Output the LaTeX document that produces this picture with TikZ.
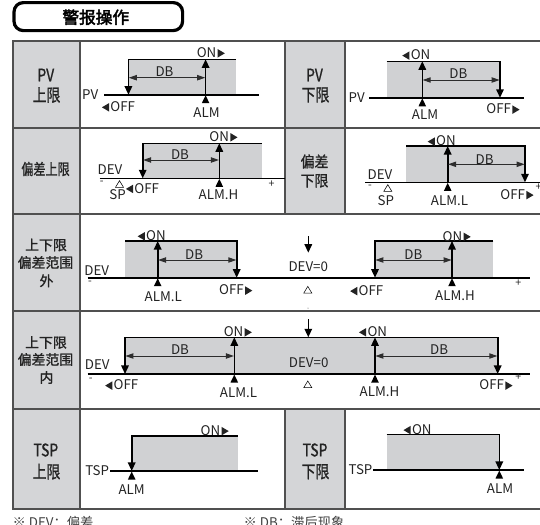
\documentclass[tikz,border=0pt]{standalone}
\usepackage{fontspec}
\setmainfont{Noto Sans CJK SC}
\newfontfamily\lblfont[FakeBold=1.2]{Noto Sans CJK SC}
\newfontfamily\ttlfont[FakeBold=2.5]{Noto Sans CJK SC}
\newfontfamily\symf{DejaVu Sans}
\usetikzlibrary{arrows.meta}
\definecolor{lblfill}{RGB}{212,213,215}
\definecolor{areafill}{RGB}{208,209,211}
\definecolor{gridc}{RGB}{80,80,80}
\definecolor{txtc}{RGB}{35,35,35}
\definecolor{dbc}{RGB}{45,45,45}
\newcommand\rtri{\hspace{1pt}\tikz[baseline=0pt]{\fill (0pt,0pt) -- (0pt,6.4pt) -- (5.4pt,3.2pt) -- cycle;}}
\newcommand\ltri{\tikz[baseline=0pt]{\fill (5.4pt,0pt) -- (5.4pt,6.4pt) -- (0pt,3.2pt) -- cycle;}\hspace{1pt}}
\newcommand\htri{\tikz[baseline=0pt]{\draw[line width=0.4pt] (0pt,0pt) -- (6pt,0pt) -- (3pt,5pt) -- cycle;}}
\newcommand\tallt[1]{\scalebox{1}[1.25]{#1}}
\tikzset{
  gridline/.style={draw=gridc, line width=1.5pt},
  baseln/.style={draw=black, line width=1.2pt},
  varr/.style={draw=black, line width=1.2pt, -{Triangle[width=5.6pt,length=6.4pt]}},
  dbarr/.style={draw=dbc, line width=0.75pt, {Triangle[width=4pt,length=6pt]}-{Triangle[width=4pt,length=6pt]}},
  txt/.style={font=\fontsize{10}{12}\selectfont, text=txtc, inner sep=0pt},
  small/.style={font=\fontsize{8}{9}\selectfont, text=txtc, inner sep=0pt},
  rlab/.style={font=\lblfont\fontsize{10.4}{12}\selectfont, text=txtc, inner sep=0pt},
  almtri/.pic={\fill[black] (0,0.6) -- (-3.8,8.5) -- (3.8,8.5) -- cycle;}
}
\begin{document}
\begin{tikzpicture}[x=0.75pt,y=-0.75pt]
\useasboundingbox (0,0) rectangle (540,525);
\clip (0,0) rectangle (540,525);
% title
\draw[line width=2.4pt, rounded corners=7pt] (14,2.6) rectangle (182.6,30.6);
\node[font=\ttlfont\fontsize{12.5}{14}\selectfont, inner sep=0pt] (title) at (95.8,17.2) {警报操作};
% table fills
\fill[lblfill] (12.7,40.8) rectangle (80.2,508.9);
\fill[lblfill] (284.8,40.8) rectangle (345,214.3);
\fill[lblfill] (284.8,409.1) rectangle (345,508.9);
% table lines
\foreach \yy in {40.8,127.6,214.3,310.7,409.1,508.9}{\draw[gridline] (12,\yy) -- (545,\yy);}
\draw[gridline] (12.7,40.8) -- (12.7,508.9);
\draw[gridline] (80.2,40.8) -- (80.2,508.9);
\draw[gridline] (284.8,40.8) -- (284.8,214.3);
\draw[gridline] (345,40.8) -- (345,214.3);
\draw[gridline] (284.8,409.1) -- (284.8,508.9);
\draw[gridline] (345,409.1) -- (345,508.9);
% row labels
\node[rlab] (l1a) at (45.8,75) {\tallt{PV}};
\node[rlab] (l1b) at (46.5,95) {\tallt{上限}};
\node[rlab] (l1c) at (314.5,75) {\tallt{PV}};
\node[rlab] (l1d) at (315.5,95) {\tallt{下限}};
\node[rlab] (l2a) at (45.5,169) {\scalebox{0.87}[1.12]{偏差上限}};
\node[rlab] (l2b) at (314.5,161.5) {\scalebox{1}[1.1]{偏差}};
\node[rlab] (l2c) at (314.5,180.8) {\scalebox{1}[1.1]{下限}};
\node[rlab] (l3a) at (46,245) {上下限};
\node[rlab] (l3b) at (45.5,262.5) {偏差范围};
\node[rlab] (l3c) at (46.5,280.8) {外};
\node[rlab] (l4a) at (46,342.5) {上下限};
\node[rlab] (l4b) at (45.5,359.5) {偏差范围};
\node[rlab] (l4c) at (46.5,377.5) {内};
\node[rlab] (l5a) at (45.8,450) {\tallt{TSP}};
\node[rlab] (l5b) at (46.5,471.7) {\tallt{上限}};
\node[rlab] (l5c) at (315,450) {\tallt{TSP}};
\node[rlab] (l5d) at (315.5,471.7) {\tallt{下限}};

% ===== Row 1 left: PV upper
\fill[areafill] (128.4,59.3) rectangle (236.2,94.7);
\draw[baseln] (104,94.7) -- (259,94.7);
\draw[varr] (236.2,59.3) -- (128.4,59.3) -- (128.4,94.7);
\draw[varr] (205.6,94.7) -- (205.6,59.3);
\draw[dbarr] (128.8,77.7) -- (205.2,77.7);
\pic at (205.6,94.7) {almtri};
\node[txt] (a1on) at (210.8,52.7) {ON\rtri};
\node[txt] (a1db) at (164.5,72) {DB};
\node[txt] (a1pv) at (90.3,95) {PV};
\node[txt] (a1off) at (118.5,106.7) {\ltri OFF};
\node[txt] (a1alm) at (206.5,112.8) {ALM};

% ===== Row 1 right: PV lower
\fill[areafill] (386.7,61.3) rectangle (500,97.8);
\draw[baseln] (369,97.8) -- (524,97.8);
\draw[varr] (386.7,61.3) -- (500,61.3) -- (500,97.8);
\draw[varr] (422.3,97.8) -- (422.3,61.3);
\draw[dbarr] (422.7,80) -- (499.6,80);
\pic at (422.3,97.8) {almtri};
\node[txt] (b1on) at (416.3,55) {\ltri ON};
\node[txt] (b1db) at (458.3,74) {DB};
\node[txt] (b1pv) at (356.7,97.5) {PV};
\node[txt] (b1alm) at (425,115) {ALM};
\node[txt] (b1off) at (503,109) {OFF\rtri};

% ===== Row 2 left: deviation upper
\fill[areafill] (142.7,143.3) rectangle (261.7,178.3);
\draw[baseln] (99.5,178.3) -- (284.8,178.3);
\draw[varr] (261.7,143.3) -- (142.7,143.3) -- (142.7,178.3);
\draw[varr] (219.3,178.3) -- (219.3,143.3);
\draw[dbarr] (143.1,160) -- (218.9,160);
\pic at (219.3,178.3) {almtri};
\node[txt] (a2on) at (223.5,136.7) {ON\rtri};
\node[txt] (a2db) at (180,155) {DB};
\node[txt] (a2dev) at (110,169.3) {DEV};
\node[small] (a2m) at (101.7,183) {-};
\node[inner sep=0pt] (a2sp0) at (119.5,184) {\htri};
\node[txt] (a2sp) at (117.5,194.5) {SP};
\node[txt] (a2off) at (142.5,188.3) {\ltri OFF};
\node[txt] (a2alm) at (218.5,195) {ALM.H};
\node[small] (a2p) at (271.5,184.5) {+};

% ===== Row 2 right: deviation lower
\fill[areafill] (406,146) rectangle (525,182.3);
\draw[baseln] (365,182.3) -- (545,182.3);
\draw[varr] (406,146) -- (525,146) -- (525,182.3);
\draw[varr] (447.7,182.3) -- (447.7,146);
\draw[dbarr] (448.1,164.3) -- (524.6,164.3);
\pic at (447.7,182.3) {almtri};
\node[txt] (b2on) at (441.7,141) {\ltri ON};
\node[txt] (b2db) at (484.7,159.3) {DB};
\node[txt] (b2dev) at (380,174.2) {DEV};
\node[small] (b2m) at (370,187) {-};
\node[inner sep=0pt] (b2sp0) at (387.8,188) {\htri};
\node[txt] (b2sp) at (385.8,200.5) {SP};
\node[txt] (b2alm) at (449.5,200.8) {ALM.L};
\node[txt] (b2off) at (517,194.5) {OFF\rtri};
\node[small] (b2p) at (538.5,187.5) {+};

% ===== Row 3: outside band
\fill[areafill] (125,241) rectangle (236.7,277.7);
\fill[areafill] (375,241) rectangle (493.3,277.7);
\draw[baseln] (87.5,277.7) -- (530,277.7);
\draw[varr] (125,241) -- (236.7,241) -- (236.7,277.7);
\draw[varr] (157.7,277.7) -- (157.7,241);
\draw[dbarr] (158.1,260) -- (236.3,260);
\pic at (157.7,277.7) {almtri};
\draw[varr] (493.3,241) -- (375,241) -- (375,277.7);
\draw[varr] (452,277.7) -- (452,241);
\draw[dbarr] (375.4,260) -- (451.6,260);
\pic at (452,277.7) {almtri};
\draw[varr] (308.3,236) -- (308.3,252.7);
\node[txt] (c3on) at (151.7,235.7) {\ltri ON};
\node[txt] (c3db) at (194.2,254.3) {DB};
\node[txt] (c3dev) at (96.7,270.5) {DEV};
\node[small] (c3m) at (90,283) {-};
\node[txt] (c3alm) at (163.3,297) {ALM.L};
\node[txt] (c3off) at (235.8,290) {OFF\rtri};
\node[txt] (c3z) at (308.3,266.7) {DEV=0};
\node[inner sep=0pt] (c3t) at (307.8,289.7) {\htri};
\node[txt] (d3off) at (366.7,290.5) {\ltri OFF};
\node[txt] (d3alm) at (455,295.8) {ALM.H};
\node[txt] (d3on) at (456.7,236.2) {ON\rtri};
\node[txt] (d3db) at (413.3,255) {DB};
\node[small] (d3p) at (518.3,282.7) {+};
\fill[black!70] (308,308) circle (0.5);

% ===== Row 4: inside band
\fill[areafill] (125,337.3) rectangle (497.7,374);
\draw[baseln] (87.5,374) -- (530,374);
\draw[varr] (375,337.3) -- (125,337.3) -- (125,374);
\draw[varr] (375,337.3) -- (497.7,337.3) -- (497.7,374);
\draw[varr] (234.3,374) -- (234.3,337.3);
\draw[varr] (375,374) -- (375,337.3);
\draw[dbarr] (125.4,356) -- (233.9,356);
\draw[dbarr] (375.4,356) -- (497.3,356);
\pic at (234.3,374) {almtri};
\pic at (375,374) {almtri};
\draw[varr] (308.3,319) -- (308.3,337.3);
\node[txt] (e4on) at (237.8,331.7) {ON\rtri};
\node[txt] (e4db) at (180,350) {DB};
\node[txt] (e4dev) at (97.3,365) {DEV};
\node[small] (e4m) at (90.7,379.5) {-};
\node[txt] (e4off) at (121.7,385) {\ltri OFF};
\node[txt] (e4alm) at (238.5,392.5) {ALM.L};
\node[txt] (f4on) at (373,331.7) {\ltri ON};
\node[txt] (f4db) at (439.2,350) {DB};
\node[txt] (f4z) at (308.7,362.5) {DEV=0};
\node[inner sep=0pt] (f4t) at (307.8,384.3) {\htri};
\node[txt] (f4alm) at (379.5,391.7) {ALM.H};
\node[txt] (f4off) at (496,385) {OFF\rtri};
\node[small] (f4p) at (518.3,377.5) {+};

% ===== Row 5 left: TSP upper
\fill[areafill] (131.7,436) rectangle (237.7,471);
\draw[baseln] (110,471) -- (258.3,471);
\draw[varr] (237.7,436) -- (131.7,436) -- (131.7,471);
\pic at (131.7,471) {almtri};
\node[txt] (g5on) at (214.7,430.5) {ON\rtri};
\node[txt] (g5tsp) at (97.2,471) {TSP};
\node[txt] (g5alm) at (131.7,489.5) {ALM};

% ===== Row 5 right: TSP lower
\fill[areafill] (386.7,434.3) rectangle (499.3,470);
\draw[baseln] (373.3,470) -- (524,470);
\draw[varr] (386.7,434.3) -- (499.3,434.3) -- (499.3,470);
\pic at (499.3,470) {almtri};
\node[txt] (h5on) at (417.5,429.5) {\ltri ON};
\node[txt] (h5tsp) at (360.5,470) {TSP};
\node[txt] (h5alm) at (500,488.3) {ALM};

% footer
\node[txt, anchor=base west, text=black!75] (foot1) at (12.3,527.5) {※ DEV：偏差};
\node[txt, anchor=base west, text=black!75] (foot2) at (243.3,527.5) {※ DB：滞后现象};
\end{tikzpicture}
\end{document}
